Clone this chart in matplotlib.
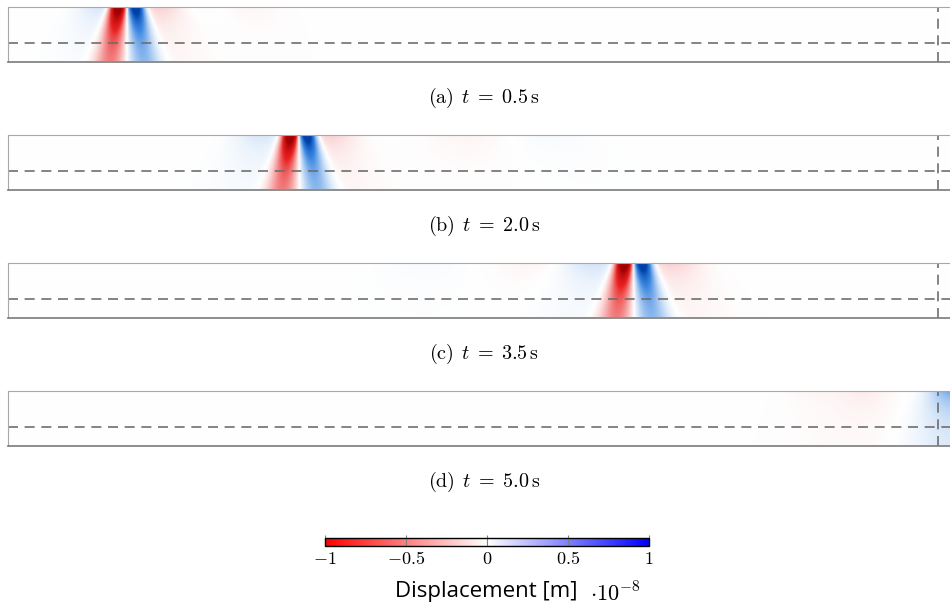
import numpy as np
import matplotlib
matplotlib.use('Agg')
import matplotlib.pyplot as plt
from matplotlib.colors import LinearSegmentedColormap, Normalize
from matplotlib.cm import ScalarMappable

plt.rcParams['mathtext.fontset'] = 'cm'

# snapshot times and panel tags
times = [0.5, 2.0, 3.5, 5.0]
tags = ['a', 'b', 'c', 'd']

# wave lobes per snapshot: position along the strip [m], signed amplitude [1e-8 m],
# width [m] and lateral drift with depth (lobes fan out below the surface)
lobe_x = [
    [9.8, 11.7, 13.5, 16.2, 20.5, 24.8],
    [26.8, 30.0, 31.7, 34.2, 49.0, 57.0],
    [62.0, 65.5, 67.3, 70.5, 44.0, 56.0],
    [100.2, 91.0, 86.0],
]
lobe_amp = [
    [0.12, -1.5, 1.5, -0.13, 0.03, -0.03],
    [0.12, -1.5, 1.5, -0.12, -0.03, 0.025],
    [0.14, -1.5, 1.5, -0.12, 0.02, -0.03],
    [0.42, -0.05, -0.025],
]
lobe_w = [
    [1.6, 0.55, 0.55, 1.8, 2.5, 2.5],
    [1.8, 0.55, 0.55, 1.8, 3.0, 3.0],
    [2.2, 0.6, 0.6, 2.0, 3.0, 3.0],
    [1.5, 1.8, 2.2],
]
lobe_tilt = [
    [0.0, -0.15, 0.15, 0.0, 0.0, 0.0],
    [0.0, -0.15, 0.18, 0.0, 0.3, 0.3],
    [0.0, -0.15, 0.18, 0.0, 0.3, 0.3],
    [0.0, 0.0, 0.0],
]

L, H = 100.0, 5.7          # strip length and depth
interface = -3.8           # layer boundary
probe_x = 98.7             # receiver line

x = np.linspace(0, L, 1200)
y = np.linspace(-H, 0, 90)
X, Y = np.meshgrid(x, y)
D = -Y


def snapshot(xs, amps, widths, tilts):
    gain = 0.2 + 0.8 * np.exp(-D / 1.8)
    u = np.zeros_like(X)
    for xc, a, w, k in zip(xs, amps, widths, tilts):
        u += a * gain * np.exp(-0.5 * ((X - xc - k * D) / (w * (1 + 0.2 * D))) ** 2)
    return u


field_cmap = LinearSegmentedColormap.from_list(
    'field', [(0.0, '#a00000'), (0.22, '#e82020'), (0.5, '#ffffff'),
              (0.78, '#3a86e0'), (1.0, '#0040a8')], N=1024)
bar_cmap = LinearSegmentedColormap.from_list('bar', ['#ff0000', '#ffffff', '#0000ff'])

fig = plt.figure(figsize=(9.5, 6.08), dpi=100)

tops = [7, 135, 263, 391]
for i, top in enumerate(tops):
    ax = fig.add_axes([8 / 950, 1 - (top + 54.5) / 608, 942 / 950, 54.5 / 608])
    u = snapshot(lobe_x[i], lobe_amp[i], lobe_w[i], lobe_tilt[i])
    ax.imshow(u, extent=[0, L, -H, 0], origin='lower', cmap=field_cmap,
              vmin=-1, vmax=1, aspect='auto', interpolation='bilinear')
    ax.axhline(interface, color='#6e6e6e', lw=1.2, dashes=(6, 4))
    ax.axvline(probe_x, color='#6e6e6e', lw=1.2, dashes=(6, 4))
    ax.set_xlim(0, L)
    ax.set_ylim(-H, 0)
    ax.set_xticks([])
    ax.set_yticks([])
    ax.spines['right'].set_visible(False)
    ax.spines['top'].set_color('#a8a8a8')
    ax.spines['left'].set_color('#a8a8a8')
    ax.spines['bottom'].set_color('#7a7a7a')
    ax.spines['bottom'].set_linewidth(1.2)
    fig.text(484 / 950, 1 - (top + 91) / 608,
             r'$\mathrm{(%s)}\;\,t\;=\;%.1f\,\mathrm{s}$' % (tags[i], times[i]),
             ha='center', va='center', fontsize=14.5)

# colour bar
cax = fig.add_axes([325 / 950, 1 - 546 / 608, 324 / 950, 8 / 608])
sm = ScalarMappable(norm=Normalize(-1, 1), cmap=bar_cmap)
cb = fig.colorbar(sm, cax=cax, orientation='horizontal', ticks=[-1, -0.5, 0, 0.5, 1])
cb.ax.set_xticklabels([r'$-1$', r'$-0.5$', r'$0$', r'$0.5$', r'$1$'], fontsize=13)
cb.ax.tick_params(direction='in', length=8, width=0.8, color='#808080', pad=3)
cb.outline.set_linewidth(1.0)
cb.outline.set_edgecolor('black')

fig.text(486 / 950, 1 - 592 / 608, 'Displacement [m]', ha='center', va='center',
         fontsize=16, family='Open Sans')
fig.text(590 / 950, 1 - 593 / 608, r'$\cdot 10^{-8}$', ha='left', va='center',
         fontsize=16)

fig.savefig('out.png', dpi=100)
